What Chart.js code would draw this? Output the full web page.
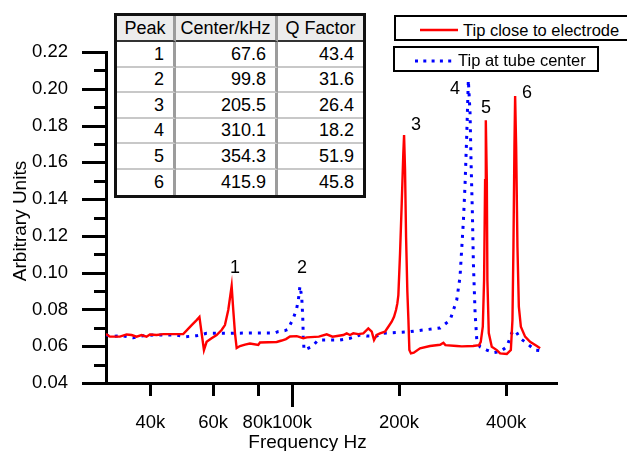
<!DOCTYPE html>
<html>
<head>
<meta charset="utf-8">
<script src="https://cdn.jsdelivr.net/npm/chart.js@4.4.1/dist/chart.umd.min.js"></script>
<style>
html, body { margin: 0; padding: 0; background: #fff; overflow: hidden; }
#wrap { position: relative; width: 627px; height: 451px; overflow: hidden; font-family: "Liberation Sans", Arial, Helvetica, sans-serif; color: #000; }
#chart { position: absolute; left: 0; top: 0; }
#tbl { position: absolute; left: 114px; top: 13px; border: 3px solid #111; border-spacing: 0; border-collapse: separate; background: #fff; font-size: 18px; line-height: 1; }
#tbl th, #tbl td { padding: 0; border-right: 3px solid #9c9c9c; border-bottom: 2px solid #c8c8c8; }
#tbl th { background: #ececec; font-weight: normal; text-align: center; border-bottom: 2px solid #333; }
#tbl td { text-align: right; padding-right: 9px; }
#tbl tr > :last-child { border-right: none; }
#tbl tbody tr:last-child td { border-bottom: none; }
#tbl thead tr { height: 26px; }
#tbl tbody tr { height: 25.5px; }
.leg { position: absolute; box-sizing: border-box; border: 2px solid #000; background: #fff; height: 26px; font-size: 16.5px; }
.leg svg { position: absolute; }
.leg span { position: absolute; line-height: 20px; white-space: nowrap; }
#leg1 { left: 394px; top: 15px; width: 260px; }
#leg2 { left: 393px; top: 46px; width: 206px; }
</style>
</head>
<body>
<div id="wrap">
  <canvas id="chart" width="627" height="451"></canvas>
  <table id="tbl"><thead><tr id="hdr"></tr></thead><tbody id="tbody"></tbody></table>
  <div class="leg" id="leg1">
    <svg style="left:24px;top:10px" width="40" height="6"><line x1="0" y1="3" x2="38" y2="3" stroke="#ff0000" stroke-width="2.5"/></svg>
    <span id="legText1" style="left:67px;top:3px"></span>
  </div>
  <div class="leg" id="leg2">
    <svg style="left:20px;top:10px" width="40" height="6"><line x1="0" y1="3" x2="38" y2="3" stroke="#0000ff" stroke-width="3" stroke-dasharray="3 5.3"/></svg>
    <span id="legText2" style="left:63px;top:2px"></span>
  </div>
</div>
<script>
const FONT = '"Liberation Sans", Arial, Helvetica, sans-serif';

// ---- data ----
const seriesNames = ['Tip close to electrode', 'Tip at tube center'];

const redFreq = [30000, 30760, 32830, 34280, 35400, 36560, 37770, 39000, 39860, 41630, 43450, 45370, 49450,
  52240, 53940, 54930, 56560, 57540, 59420, 61400, 63410, 64790, 66200, 67670, 68380, 69150, 69900,
  71430, 73780, 76170, 80400, 81280, 90570, 93550, 96190, 98720, 103100, 105300, 107600, 110000,
  119000, 125200, 130000, 139400, 142500, 145600, 148700, 153600, 158700, 163900, 167600, 170100,
  173100, 176800, 182600, 186600, 190700, 193600, 196100, 197800, 199100, 201300, 203500, 205600,
  206600, 207900, 209300, 211000, 212500, 213800, 216000, 220000, 229100, 244400, 260900, 266500,
  270000, 290500, 300100, 323000, 335700, 339400, 343900, 346800, 349100, 350700, 353000, 354300,
  357500, 364500, 376600, 384700, 401800, 412400, 416700, 419400, 422100, 424000, 426800, 430400,
  434300, 440000, 452300, 467100, 487900, 498400];
const redValue = [0.0666, 0.0652, 0.0652, 0.0664, 0.0661, 0.0652, 0.0661, 0.0652, 0.0664, 0.0661, 0.0666, 0.0666, 0.0666,
  0.0715, 0.0742, 0.0759, 0.0579, 0.0624, 0.0643, 0.0661, 0.0688, 0.0715, 0.0797, 0.0927, 0.0797, 0.0670, 0.0590,
  0.0601, 0.0609, 0.0615, 0.0607, 0.0620, 0.0623, 0.0631, 0.0639, 0.0653, 0.0655, 0.0650, 0.0643, 0.0648,
  0.0652, 0.0665, 0.0652, 0.0661, 0.0670, 0.0661, 0.0670, 0.0666, 0.0670, 0.0697, 0.0679, 0.0634,
  0.0661, 0.0670, 0.0679, 0.0706, 0.0733, 0.0760, 0.0797, 0.0833, 0.0878, 0.1107, 0.1378, 0.1650,
  0.1748, 0.1558, 0.1193, 0.0900, 0.0742, 0.0579, 0.0561, 0.0565, 0.0589, 0.0601, 0.0608, 0.0619,
  0.0606, 0.0601, 0.0599, 0.0601, 0.0606, 0.0624, 0.0706, 0.0960, 0.1503, 0.1829, 0.1503, 0.0960,
  0.0672, 0.0597, 0.0579, 0.0561, 0.0558, 0.0579, 0.0742, 0.1141, 0.1684, 0.1960, 0.1684, 0.1141,
  0.0815, 0.0706, 0.0652, 0.0624, 0.0601, 0.0589];

const blueFreq = [30000, 31100, 33190, 35780, 38170, 40730, 43930, 46870, 50320, 53940, 57540, 65210, 76170,
  89580, 91300, 95570, 97630, 98720, 100900, 103100, 104200, 105300, 106500, 107200, 107600, 108100,
  113600, 118600, 127900, 136500, 145600, 150400, 155400, 162300, 173100, 180300, 201300, 214700,
  233600, 260900, 278300, 290500, 296800, 303300, 306600, 310000, 313200, 316700, 318800, 321500,
  323600, 327200, 330800, 337900, 353000, 368300, 384700, 401800, 415000, 424000, 438000, 457300,
  482500, 498400];
const blueValue = [0.0661, 0.0652, 0.0657, 0.0646, 0.0657, 0.0661, 0.0661, 0.0661, 0.0652, 0.0657, 0.0670, 0.0670, 0.0672,
  0.0672, 0.0679, 0.0685, 0.0692, 0.0715, 0.0752, 0.0806, 0.0851, 0.0927, 0.0869, 0.0760, 0.0652, 0.0579,
  0.0597, 0.0634, 0.0634, 0.0634, 0.0643, 0.0652, 0.0661, 0.0655, 0.0655, 0.0670, 0.0676, 0.0679,
  0.0688, 0.0699, 0.0742, 0.0851, 0.0978, 0.1280, 0.1480, 0.1750, 0.2047, 0.1867, 0.1596, 0.1324,
  0.1052, 0.0780, 0.0634, 0.0597, 0.0579, 0.0565, 0.0570, 0.0597, 0.0672, 0.0688, 0.0643, 0.0616,
  0.0579, 0.0576];

const xTickValues = [40000, 60000, 80000, 100000, 200000, 400000];
const xTickLabels = ['40k', '60k', '80k', '100k', '200k', '400k'];
const xMajorTick = 100000;
const xRange = [30000, 556000];
const yRange = [0.04, 0.22];
const yLabelStep = 0.02;
const yMinorStep = 0.01;

const peakLabels = ['1', '2', '3', '4', '5', '6'];
const peakLabelFreq = [69150, 106700, 223300, 287400, 351400, 458100];
const peakLabelValue = [0.1025, 0.1025, 0.1802, 0.1998, 0.1895, 0.1976];

const tableHeader = ['Peak', 'Center/kHz', 'Q Factor'];
const tablePeak = ['1', '2', '3', '4', '5', '6'];
const tableCenter = ['67.6', '99.8', '205.5', '310.1', '354.3', '415.9'];
const tableQ = ['43.4', '31.6', '26.4', '18.2', '51.9', '45.8'];

const xTitle = 'Frequency Hz';
const yTitle = 'Arbitrary Units';

// ---- table and legend (HTML text) ----
const colWidths = [56, 99, 85];
const hdr = document.getElementById('hdr');
tableHeader.forEach((h, i) => {
  const th = document.createElement('th');
  th.textContent = h;
  th.style.width = colWidths[i] + 'px';
  hdr.appendChild(th);
});
const tbody = document.getElementById('tbody');
tablePeak.forEach((p, i) => {
  const tr = document.createElement('tr');
  [p, tableCenter[i], tableQ[i]].forEach(v => {
    const td = document.createElement('td');
    td.textContent = v;
    tr.appendChild(td);
  });
  tbody.appendChild(tr);
});
document.getElementById('legText1').textContent = seriesNames[0];
document.getElementById('legText2').textContent = seriesNames[1];

// ---- chart ----
const toPoints = (xs, ys) => xs.map((x, i) => ({ x: x, y: ys[i] }));

const decorPlugin = {
  id: 'decor',
  afterDraw(chart) {
    const { ctx, chartArea: a, scales: { x, y } } = chart;
    ctx.save();
    ctx.strokeStyle = '#000';
    ctx.lineWidth = 3;
    ctx.lineCap = 'butt';
    ctx.beginPath();
    const nMinor = Math.round((yRange[1] - yRange[0]) / yMinorStep);
    for (let i = 0; i <= nMinor; i++) {
      const v = yRange[0] + i * yMinorStep;
      const py = Math.round(y.getPixelForValue(v)) + 0.5;
      const len = (i % Math.round(yLabelStep / yMinorStep) === 0) ? 24 : 12;
      ctx.moveTo(a.left - len, py);
      ctx.lineTo(a.left, py);
    }
    xTickValues.forEach(v => {
      const px = Math.round(x.getPixelForValue(v)) + 0.5;
      const len = v === xMajorTick ? 24 : 13;
      ctx.moveTo(px, a.bottom);
      ctx.lineTo(px, a.bottom + len);
    });
    ctx.stroke();

    // peak labels
    ctx.fillStyle = '#000';
    ctx.font = '18px ' + FONT;
    ctx.textAlign = 'center';
    ctx.textBaseline = 'middle';
    peakLabels.forEach((t, i) => {
      ctx.fillText(t, x.getPixelForValue(peakLabelFreq[i]), y.getPixelForValue(peakLabelValue[i]));
    });

    // axis titles
    ctx.font = '19px ' + FONT;
    ctx.textBaseline = 'alphabetic';
    ctx.fillText(xTitle, 307.5, 448);
    ctx.translate(25.5, 221);
    ctx.rotate(-Math.PI / 2);
    ctx.fillText(yTitle, 0, 0);
    ctx.restore();
  }
};

new Chart(document.getElementById('chart'), {
  type: 'line',
  data: {
    datasets: [
      { label: seriesNames[0], data: toPoints(redFreq, redValue), borderColor: '#ff0000', borderWidth: 2.4,
        pointRadius: 0, tension: 0, fill: false },
      { label: seriesNames[1], data: toPoints(blueFreq, blueValue), borderColor: '#0000ff', borderWidth: 3,
        borderDash: [3, 6], pointRadius: 0, tension: 0, fill: false }
    ]
  },
  options: {
    responsive: false,
    animation: false,
    devicePixelRatio: 1,
    parsing: true,
    layout: { padding: { top: 52, right: 70, left: 0, bottom: 0 } },
    plugins: { legend: { display: false }, tooltip: { enabled: false } },
    scales: {
      x: {
        type: 'logarithmic',
        min: xRange[0], max: xRange[1],
        afterBuildTicks: s => { s.ticks = xTickValues.map(v => ({ value: v })); },
        afterFit: s => { s.height = 68; },
        ticks: {
          autoSkip: false, maxRotation: 0, minRotation: 0, padding: 29, color: '#000',
          font: { size: 18.5, family: FONT },
          callback: v => { const i = xTickValues.indexOf(v); return i >= 0 ? xTickLabels[i] : ''; }
        },
        grid: { display: false, drawTicks: false },
        border: { display: true, color: '#000', width: 3 }
      },
      y: {
        min: yRange[0], max: yRange[1],
        afterFit: s => { s.width = 106; },
        ticks: {
          stepSize: yLabelStep, padding: 38, color: '#000',
          font: { size: 18.5, family: FONT },
          callback: v => Number(v).toFixed(2)
        },
        grid: { display: false, drawTicks: false },
        border: { display: true, color: '#000', width: 3 }
      }
    }
  },
  plugins: [decorPlugin]
});
</script>
</body>
</html>
